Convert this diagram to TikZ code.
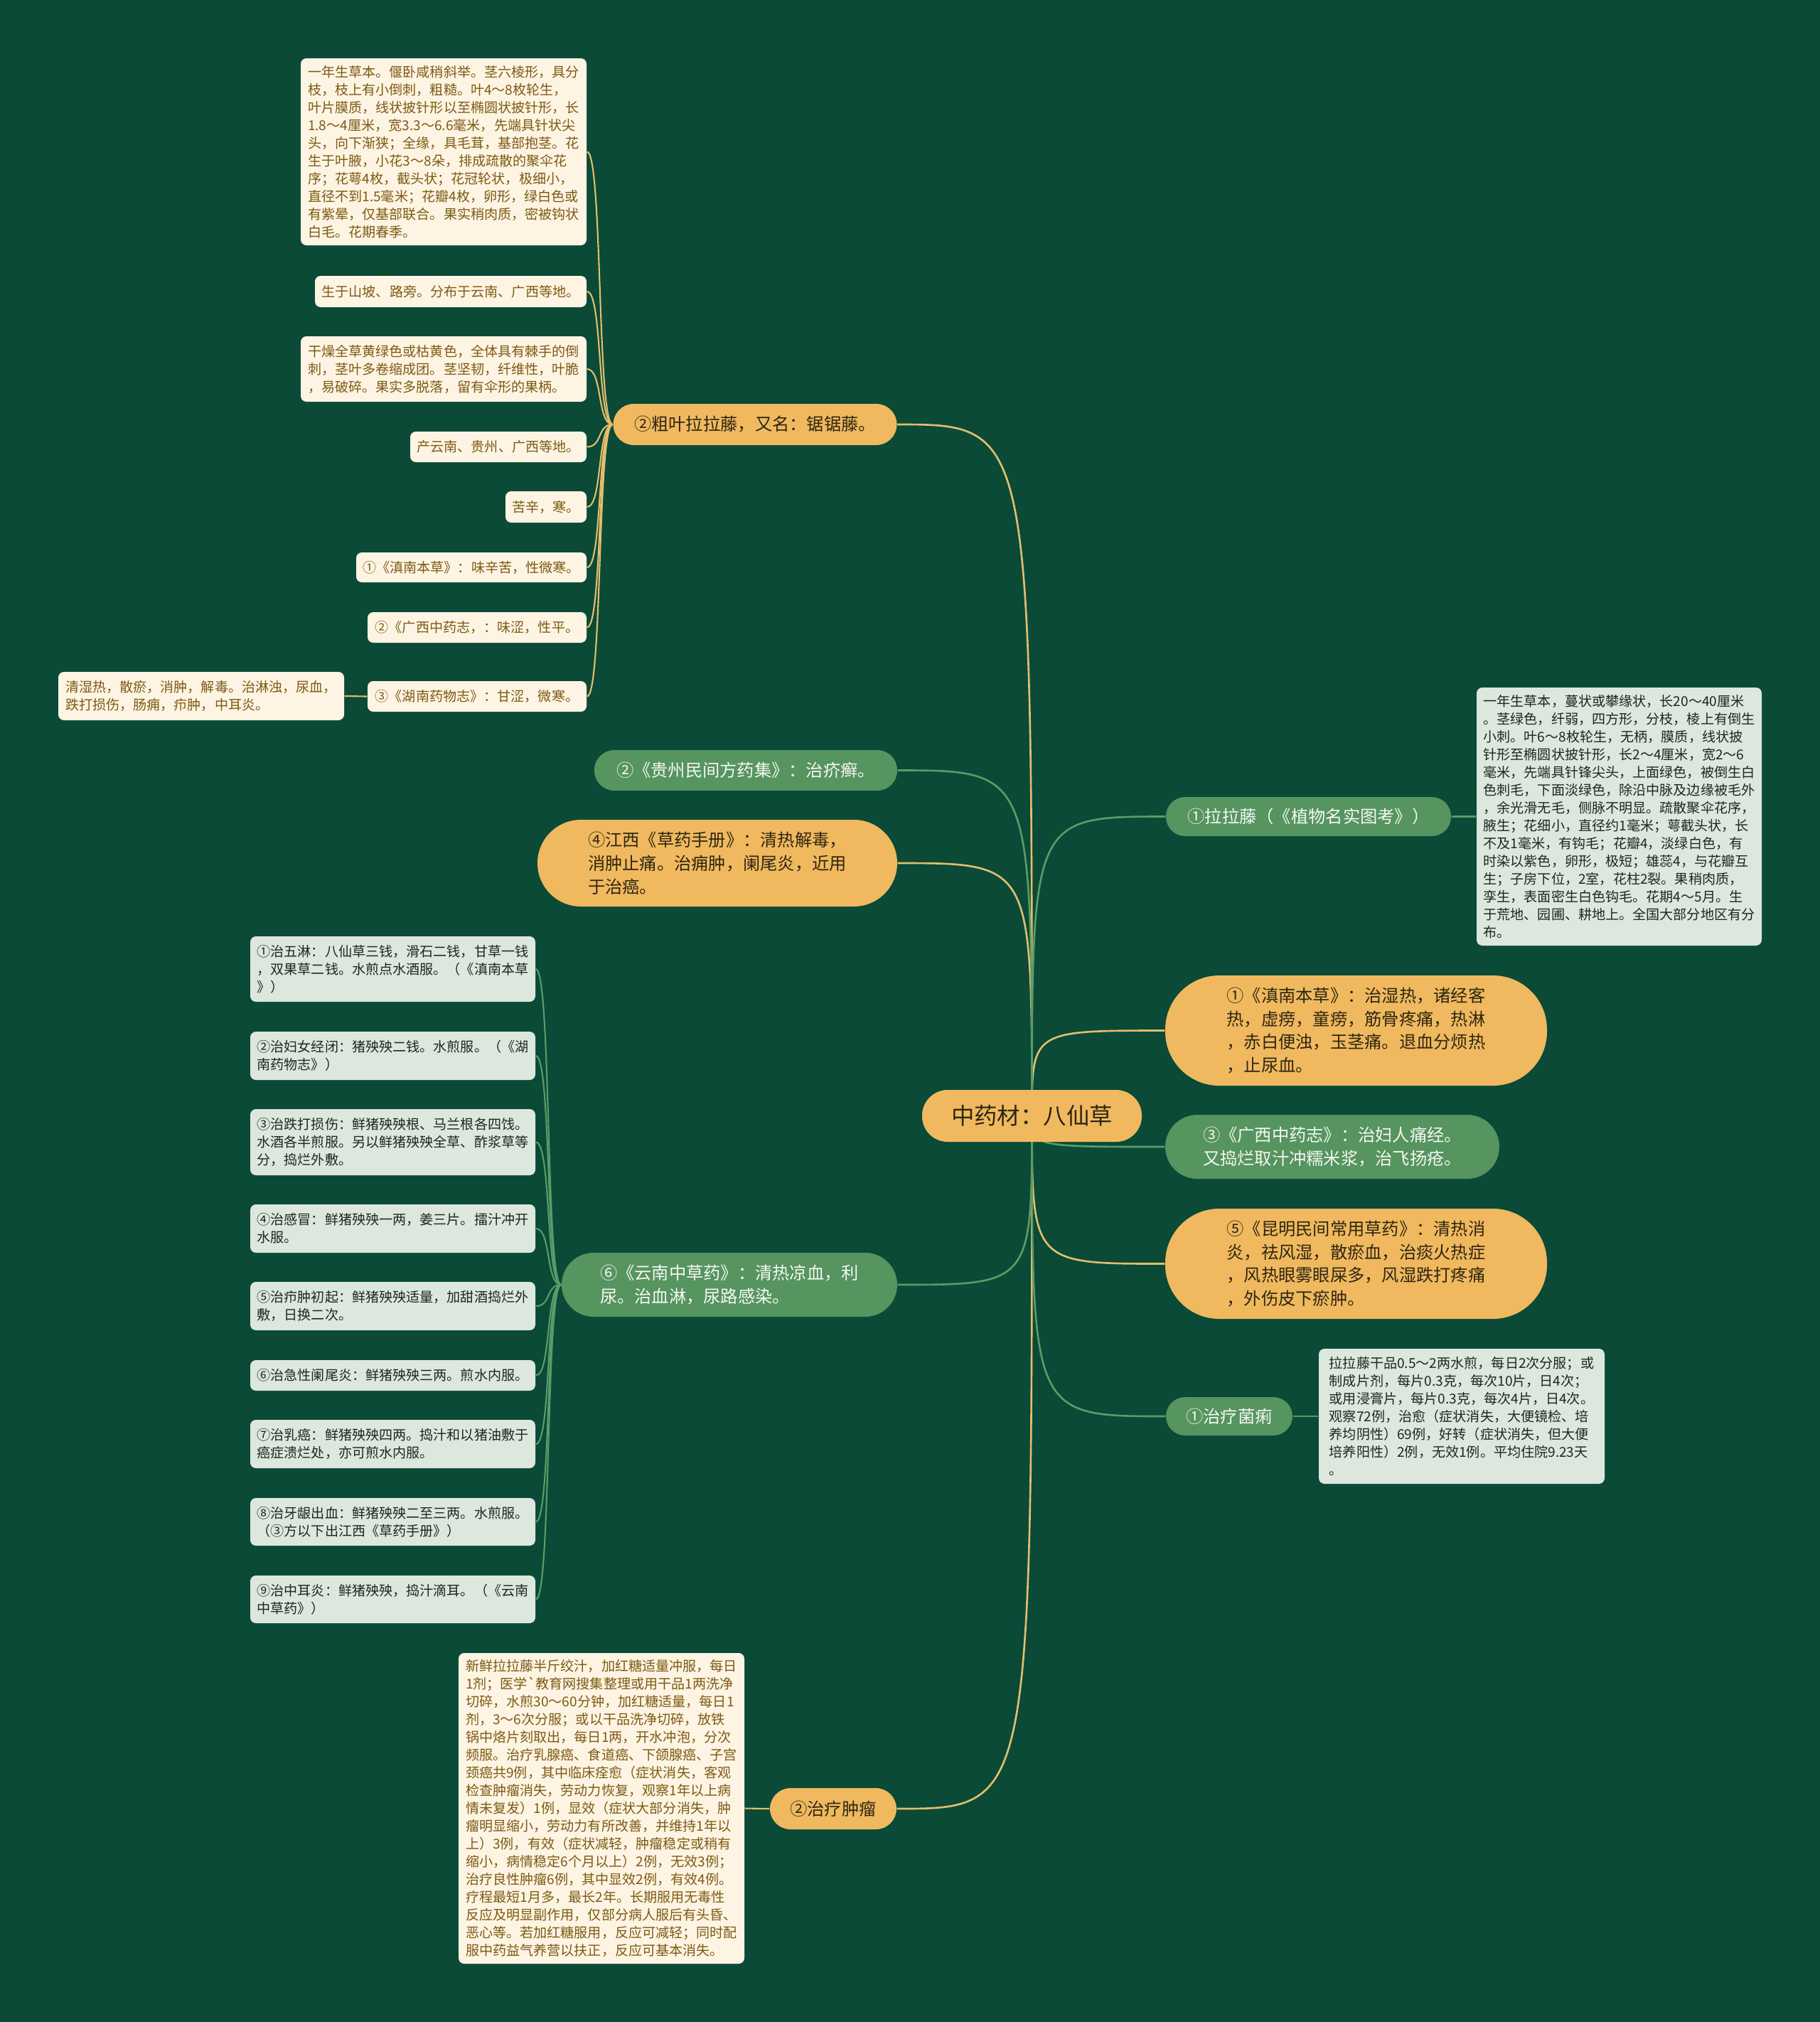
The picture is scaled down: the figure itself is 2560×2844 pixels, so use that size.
\documentclass[tikz,border=0pt]{standalone}
\usepackage{fontspec}
\setmainfont{Noto Sans CJK SC}
\usetikzlibrary{calc}
\definecolor{bgc}{HTML}{0A4A37}
\definecolor{orf}{HTML}{F0B95F}
\definecolor{ortx}{HTML}{2E2610}
\definecolor{grf}{HTML}{569460}
\definecolor{grtx}{HTML}{F4F8F2}
\definecolor{crf}{HTML}{FDF4E3}
\definecolor{crtx}{HTML}{7D5A12}
\definecolor{lgf}{HTML}{DCE7DD}
\definecolor{lgtx}{HTML}{1E2620}
\definecolor{orl}{HTML}{E3BE6C}
\definecolor{grl}{HTML}{5C9B68}
\pgfdeclarelayer{bg}
\pgfsetlayers{bg,main}
\tikzset{
  sz/.style n args={3}{minimum width=#1*0.01cm, minimum height=#2*0.01cm, rounded corners=#3*0.01cm},
  rootn/.style={fill=orf, text=ortx, inner sep=0pt, align=center, font=\fontsize{9.2pt}{11pt}\selectfont},
  obr/.style={fill=orf, text=ortx, inner sep=0pt, align=left, font=\fontsize{6.9pt}{9.3pt}\selectfont},
  gbr/.style={fill=grf, text=grtx, inner sep=0pt, align=left, font=\fontsize{6.9pt}{9.3pt}\selectfont},
  cleaf/.style={fill=crf, text=crtx, inner sep=0pt, align=left, font=\fontsize{5.43pt}{7.1pt}\selectfont},
  gleaf/.style={fill=lgf, text=lgtx, inner sep=0pt, align=left, font=\fontsize{5.43pt}{7.1pt}\selectfont},
  oline/.style={draw=orl, line width=0.75pt},
  gline/.style={draw=grl, line width=0.75pt},
  olf/.style={draw=orl, line width=0.6pt},
  glf/.style={draw=grl, line width=0.6pt},
}
\begin{document}
\begin{tikzpicture}[x=0.01cm, y=-0.01cm]
\useasboundingbox (0,0) rectangle (2560,2844);
% root
\node[rootn, sz={309}{73}{36}] (root) at (1451.5,1569.5) {中药材：八仙草};
% left branches
\node[obr, sz={399}{58}{29}] (cuye) at (1062,597) {②粗叶拉拉藤，又名：锯锯藤。};
\node[gbr, sz={426}{57}{28}] (guizhou) at (1049,1083.5) {②《贵州民间方药集》：治疥癣。};
\node[obr, sz={506}{122}{61}] (jiangxi) at (1009,1214) {④江西《草药手册》：清热解毒，\\消肿止痛。治痈肿，阑尾炎，近用\\于治癌。};
\node[gbr, sz={472}{90}{45}] (yunnan) at (1026,1807) {⑥《云南中草药》：清热凉血，利\\尿。治血淋，尿路感染。};
\node[obr, sz={178}{58}{29}] (zhongliu) at (1172,2544) {②治疗肿瘤};
% right branches
\node[gbr, sz={401}{55}{27}] (lalateng) at (1840.5,1148.5) {①拉拉藤（《植物名实图考》）};
\node[obr, sz={537}{155}{76}] (diannan) at (1907.5,1449.5) {①《滇南本草》：治湿热，诸经客\\热，虚痨，童痨，筋骨疼痛，热淋\\，赤白便浊，玉茎痛。退血分烦热\\，止尿血。};
\node[gbr, sz={470}{90}{45}] (guangxi) at (1874,1613) {③《广西中药志》：治妇人痛经。\\又捣烂取汁冲糯米浆，治飞扬疮。};
\node[obr, sz={537}{155}{76}] (kunming) at (1907.5,1777.5) {⑤《昆明民间常用草药》：清热消\\炎，祛风湿，散瘀血，治痰火热症\\，风热眼雾眼屎多，风湿跌打疼痛\\，外伤皮下瘀肿。};
\node[gbr, sz={178}{54}{27}] (junli) at (1729,1992) {①治疗菌痢};
% top-left leaves
\node[cleaf, sz={402}{263}{8}] (L1) at (624,213.5) {一年生草本。偃卧咸稍斜举。茎六棱形，具分\\枝，枝上有小倒刺，粗糙。叶4～8枚轮生，\\叶片膜质，线状披针形以至椭圆状披针形，长\\1.8～4厘米，宽3.3～6.6毫米，先端具针状尖\\头，向下渐狭；全缘，具毛茸，基部抱茎。花\\生于叶腋，小花3～8朵，排成疏散的聚伞花\\序；花萼4枚，截头状；花冠轮状，极细小，\\直径不到1.5毫米；花瓣4枚，卵形，绿白色或\\有紫晕，仅基部联合。果实稍肉质，密被钩状\\白毛。花期春季。};
\node[cleaf, sz={382}{44}{8}] (L2) at (634,410) {生于山坡、路旁。分布于云南、广西等地。};
\node[cleaf, sz={402}{92}{8}] (L3) at (624,519) {干燥全草黄绿色或枯黄色，全体具有棘手的倒\\刺，茎叶多卷缩成团。茎坚韧，纤维性，叶脆\\，易破碎。果实多脱落，留有伞形的果柄。};
\node[cleaf, sz={248}{43}{8}] (L4) at (701,628.5) {产云南、贵州、广西等地。};
\node[cleaf, sz={114}{44}{8}] (L5) at (768,713) {苦辛，寒。};
\node[cleaf, sz={324}{42}{8}] (L6) at (663,798) {①《滇南本草》：味辛苦，性微寒。};
\node[cleaf, sz={308}{43}{8}] (L7) at (671,882.5) {②《广西中药志，：味涩，性平。};
\node[cleaf, sz={308}{43}{8}] (L8) at (671,979.5) {③《湖南药物志》：甘涩，微寒。};
\node[cleaf, sz={402}{68}{8}] (L8a) at (283,979) {清湿热，散瘀，消肿，解毒。治淋浊，尿血，\\跌打损伤，肠痈，疖肿，中耳炎。};
% green list
\node[gleaf, sz={401}{92}{8}] (G1) at (552.5,1363) {①治五淋：八仙草三钱，滑石二钱，甘草一钱\\，双果草二钱。水煎点水酒服。（《滇南本草\\》）};
\node[gleaf, sz={401}{68}{8}] (G2) at (552.5,1485) {②治妇女经闭：猪殃殃二钱。水煎服。（《湖\\南药物志》）};
\node[gleaf, sz={401}{93}{8}] (G3) at (552.5,1606.5) {③治跌打损伤：鲜猪殃殃根、马兰根各四饯。\\水酒各半煎服。另以鲜猪殃殃全草、酢浆草等\\分，捣烂外敷。};
\node[gleaf, sz={401}{68}{8}] (G4) at (552.5,1728) {④治感冒：鲜猪殃殃一两，姜三片。擂汁冲开\\水服。};
\node[gleaf, sz={401}{68}{8}] (G5) at (552.5,1837) {⑤治疖肿初起：鲜猪殃殃适量，加甜酒捣烂外\\敷，日换二次。};
\node[gleaf, sz={401}{43}{8}] (G6) at (552.5,1934.5) {⑥治急性阑尾炎：鲜猪殃殃三两。煎水内服。};
\node[gleaf, sz={401}{68}{8}] (G7) at (552.5,2031) {⑦治乳癌：鲜猪殃殃四两。捣汁和以猪油敷于\\癌症溃烂处，亦可煎水内服。};
\node[gleaf, sz={401}{67}{8}] (G8) at (552.5,2140.5) {⑧治牙龈出血：鲜猪殃殃二至三两。水煎服。\\（③方以下出江西《草药手册》）};
\node[gleaf, sz={401}{67}{8}] (G9) at (552.5,2249.5) {⑨治中耳炎：鲜猪殃殃，捣汁滴耳。（《云南\\中草药》）};
% bottom leaf
\node[cleaf, sz={402}{437}{8}] (B1) at (846,2543.5) {新鲜拉拉藤半斤绞汁，加红糖适量冲服，每日\\1剂；医学\textasciigrave 教育网搜集整理或用干品1两洗净\\切碎，水煎30～60分钟，加红糖适量，每日1\\剂，3～6次分服；或以干品洗净切碎，放铁\\锅中烙片刻取出，每日1两，开水冲泡，分次\\频服。治疗乳腺癌、食道癌、下颌腺癌、子宫\\颈癌共9例，其中临床痊愈（症状消失，客观\\检查肿瘤消失，劳动力恢复，观察1年以上病\\情未复发）1例，显效（症状大部分消失，肿\\瘤明显缩小，劳动力有所改善，并维持1年以\\上）3例，有效（症状减轻，肿瘤稳定或稍有\\缩小，病情稳定6个月以上）2例，无效3例；\\治疗良性肿瘤6例，其中显效2例，有效4例。\\疗程最短1月多，最长2年。长期服用无毒性\\反应及明显副作用，仅部分病人服后有头昏、\\恶心等。若加红糖服用，反应可减轻；同时配\\服中药益气养营以扶正，反应可基本消失。};
% right leaves
\node[gleaf, sz={401}{363}{8}] (R1) at (2277.5,1148.5) {一年生草本，蔓状或攀缘状，长20～40厘米\\。茎绿色，纤弱，四方形，分枝，棱上有倒生\\小刺。叶6～8枚轮生，无柄，膜质，线状披\\针形至椭圆状披针形，长2～4厘米，宽2～6\\毫米，先端具针锋尖头，上面绿色，被倒生白\\色刺毛，下面淡绿色，除沿中脉及边缘被毛外\\，余光滑无毛，侧脉不明显。疏散聚伞花序，\\腋生；花细小，直径约1毫米；萼截头状，长\\不及1毫米，有钩毛；花瓣4，淡绿白色，有\\时染以紫色，卵形，极短；雄蕊4，与花瓣互\\生；子房下位，2室，花柱2裂。果稍肉质，\\孪生，表面密生白色钩毛。花期4～5月。生\\于荒地、园圃、耕地上。全国大部分地区有分\\布。};
\node[gleaf, sz={402}{190}{8}] (R2) at (2056,1992) {拉拉藤干品0.5～2两水煎，每日2次分服；或\\制成片剂，每片0.3克，每次10片，日4次；\\或用浸膏片，每片0.3克，每次4片，日4次。\\观察72例，治愈（症状消失，大便镜检、培\\养均阴性）69例，好转（症状消失，但大便\\培养阳性）2例，无效1例。平均住院9.23天\\。};
% connectors
\begin{pgfonlayer}{bg}
\fill[bgc] (0,0) rectangle (2560,2844);
\foreach \t in {cuye,jiangxi,zhongliu}
  \draw[oline] (root.center) .. controls (root.center |- \t.east) .. (\t.east);
\foreach \t in {guizhou,yunnan}
  \draw[gline] (root.center) .. controls (root.center |- \t.east) .. (\t.east);
\foreach \t in {diannan,kunming}
  \draw[oline] (root.center) .. controls (root.center |- \t.west) .. (\t.west);
\foreach \t in {lalateng,guangxi,junli}
  \draw[gline] (root.center) .. controls (root.center |- \t.west) .. (\t.west);
\foreach \l in {L1,L2,L3,L4,L5,L6,L7,L8}
  \draw[olf] (cuye.west) .. controls +(-22,0) and +(22,0) .. (\l.east);
\foreach \l in {G1,G2,G3,G4,G5,G6,G7,G8,G9}
  \draw[glf] (yunnan.west) .. controls +(-22,0) and +(22,0) .. (\l.east);
\draw[olf] (L8.west) -- (L8a.east);
\draw[olf] (zhongliu.west) -- (B1.east);
\draw[glf] (lalateng.east) -- (R1.west);
\draw[glf] (junli.east) -- (R2.west);
\end{pgfonlayer}
\end{tikzpicture}
\end{document}
